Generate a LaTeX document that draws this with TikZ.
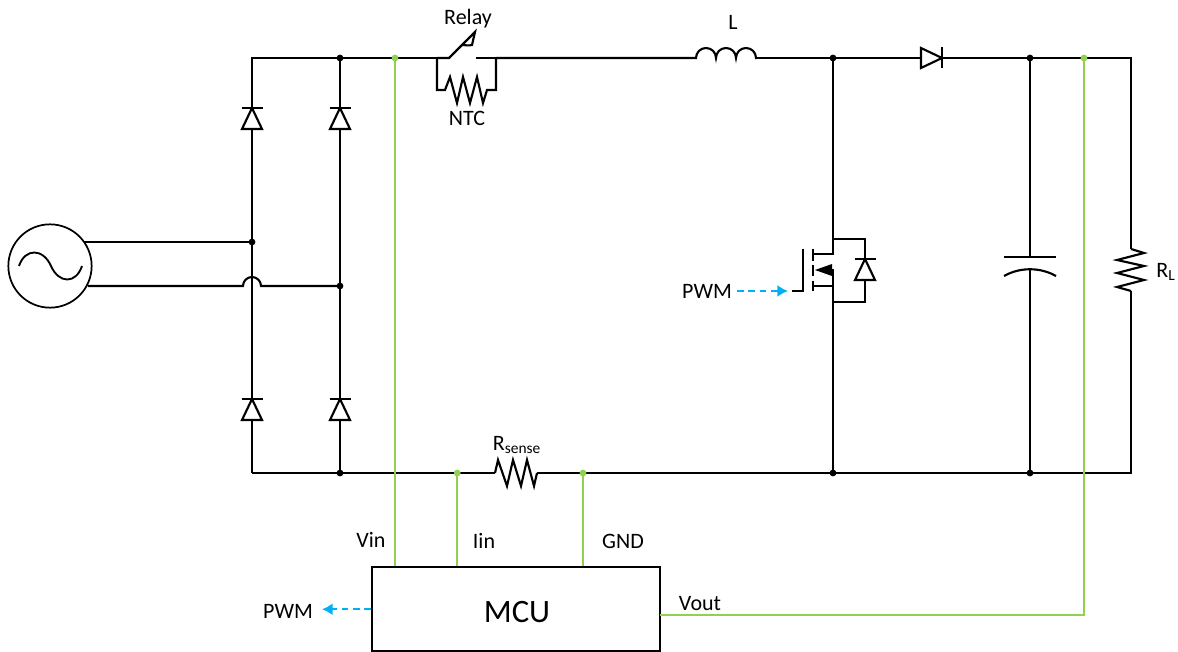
\documentclass[tikz,border=0pt]{standalone}
\usepackage{fontspec}
\setmainfont{Carlito}
\usepackage{xcolor}
\usetikzlibrary{arrows.meta,calc}
\definecolor{sensegreen}{HTML}{92D050}
\definecolor{pwmblue}{HTML}{00B0F0}
\newcommand{\drawDiode}[3]{% bar center: x,y, angle
  \begin{scope}[shift={(#1,#2)},rotate=#3]
    \draw[wire,fill=white] (0,0) -- (-10,21) -- (10,21) -- cycle;
    \draw[wire] (-10.5,0) -- (10.5,0);
  \end{scope}
}
\newcommand{\drawDot}[2]{% center: name, colour
  \fill[#2] (#1) circle (3.4);
}
\tikzset{
  wire/.style={line width=1.6pt,line join=miter},
  sense/.style={line width=1.9pt,sensegreen},
  pwmline/.style={line width=1.4pt,pwmblue,dash pattern=on 5pt off 3.5pt,-{Latex[length=8pt,width=9pt]}},
  lbl/.style={inner sep=0pt,font=\fontsize{16.5}{19}\selectfont}
}
\begin{document}
\begin{tikzpicture}[x=0.75pt,y=-0.75pt]
\useasboundingbox (0,0) rectangle (1178,652);
\clip (0,0) rectangle (1178,652);

\coordinate (acTop) at (84,242);
\coordinate (acBot) at (88,286);
\coordinate (legA) at (252,242);
\coordinate (legB) at (340,286);
\coordinate (hopL) at (243,286);
\coordinate (hopR) at (261,286);
\coordinate (topL) at (252,58);
\coordinate (topB) at (340,58);
\coordinate (vinTap) at (395,58);
\coordinate (ntcL) at (437,58);
\coordinate (ntcR) at (496,58);
\coordinate (bladeL) at (449,58);
\coordinate (bladeR) at (476,58);
\coordinate (indL) at (696,58);
\coordinate (indR) at (757,58);
\coordinate (swTop) at (833,58);
\coordinate (capTop) at (1030,58);
\coordinate (voutTap) at (1084,58);
\coordinate (topR) at (1131,58);
\coordinate (botL) at (252,473);
\coordinate (botB) at (340,473);
\coordinate (iinTap) at (457.2,473);
\coordinate (gndTap) at (583,473);
\coordinate (rsL) at (495,473);
\coordinate (rsR) at (537,473);
\coordinate (swBot) at (833,473);
\coordinate (capBot) at (1030,473);
\coordinate (botR) at (1131,473);
\coordinate (drain) at (833,254);
\coordinate (source) at (833,286);
\coordinate (loopTop) at (833,239);
\coordinate (loopBot) at (833,302);
\coordinate (plateA) at (1030,257);
\coordinate (plateB) at (1030,269.5);
\coordinate (rlTop) at (1131,249);
\coordinate (rlBot) at (1131,291);

% source
\node[draw,circle,line width=1.3pt,minimum size=62.5pt,inner sep=0pt] (ac) at (50,266) {};
\draw[line width=1.4pt] (19,266) .. controls (25,248) and (43,248) .. (51,266)
    .. controls (59,284) and (76,284) .. (82,266);
\draw[wire] (acTop) -- (legA);
\draw[wire] (acBot) -- (hopL) arc (-180:0:9) -- (legB);

% bridge and outer loop
\draw[wire] (botL) -- (topL) -- (ntcL);
\draw[wire] (topB) -- (botB);
\draw[wire] (botL) -- (rsL);
\draw[wire] (rsL) -- (498,460) -- (507,486) -- (513,460) -- (521,486) -- (527,460) -- (534,486) -- (rsR);
\draw[wire] (rsR) -- (botR) -- (rlBot);
\draw[wire] (rlBot) -- (1117,287) -- (1144,280) -- (1117,273) -- (1144,266) -- (1117,260) -- (1144,253) -- (rlTop);
\draw[wire] (rlTop) -- (topR) -- (indR);

% relay and NTC
\draw[wire] (ntcL) -- (bladeL) -- (475,32) -- (472,45) .. controls (468,46) and (465,45) .. (463,45);
\draw[wire] (bladeR) -- (ntcR);
\draw[wire] (ntcL) -- (437,90) -- (445,90) -- (450,77) -- (457,103) -- (463,77) -- (470,103)
    -- (477,77) -- (483,103) -- (487,90) -- (496,90) -- (ntcR);

% inductor
\draw[wire] (ntcR) -- (indL) arc (-180:0:10) arc (-180:0:10) arc (-180:0:10) -- (indR);

% switch
\draw[wire] (swTop) -- (drain) -- (813,254);
\draw[wire] (swBot) -- (source) -- (813,286);
\draw[wire] (source) -- (833,270) -- (825,270);
\fill (815,270) -- (832,264) -- (832,276) -- cycle;
\draw[wire] (813,249) -- (813,261);
\draw[wire] (813,265) -- (813,276);
\draw[wire] (813,281) -- (813,291);
\draw[wire] (803,249) -- (803,291) -- (792,291);
\draw[wire] (loopTop) -| (865,259);
\draw[wire] (loopBot) -| (865,280);

% capacitor
\draw[wire] (capTop) -- (plateA);
\draw[wire] (1004,257) -- (1056,257);
\draw[wire] (1004,276) .. controls (1020,267) and (1040,267) .. (1056,276);
\draw[wire] (plateB) -- (capBot);

% diodes
\foreach \dx in {252,340} {
    \foreach \dy in {108,399} {
        \drawDiode{\dx}{\dy}{0}
    }
}
\drawDiode{865}{259}{0}
\drawDiode{942}{58}{-90}

% dots
\foreach \p in {legA,legB,topB,botB,swTop,swBot,capTop,capBot} {
    \drawDot{\p}{black}
}

% MCU and sense lines
\node[draw,line width=1.6pt,minimum width=216pt,minimum height=63.4pt,inner sep=0pt] (mcu) at (516,609.25) {};
\node[inner sep=0pt,font=\fontsize{24.5}{28}\selectfont] (mcuLabel) at (517,612) {MCU};
\coordinate (voutOut) at (660,615);
\draw[sense] (vinTap) -- (vinTap |- mcu.north);
\draw[sense] (iinTap) -- (iinTap |- mcu.north);
\draw[sense] (gndTap) -- (gndTap |- mcu.north);
\draw[sense] (voutOut) -| (voutTap);
\foreach \p in {vinTap,iinTap,gndTap,voutTap} {
    \drawDot{\p}{sensegreen}
}

% labels
\node[lbl] (relayLabel) at (468,19) {Relay};
\node[lbl] (ntcLabel) at (467,118) {NTC};
\node[lbl] (indLabel) at (733,22) {L};
\node[lbl] (rsLabel) at (517,445) {R\textsubscript{sense}};
\node[lbl] (rlLabel) at (1166,272) {R\textsubscript{L}};
\node[lbl] (vinLabel) at (371,540) {Vin};
\node[lbl] (iinLabel) at (484,541) {Iin};
\node[lbl] (gndLabel) at (623,541) {GND};
\node[lbl] (voutLabel) at (700,604) {Vout};
\node[lbl] (gatePwm) at (707,291) {PWM};
\node[lbl] (mcuPwm) at (288,611) {PWM};
\coordinate (gateIn) at (788,291);
\draw[pwmline] (gatePwm.east) ++(5,0) -- (gateIn);
\draw[pwmline] (mcu.west) -- (322,609.25);
\end{tikzpicture}
\end{document}
